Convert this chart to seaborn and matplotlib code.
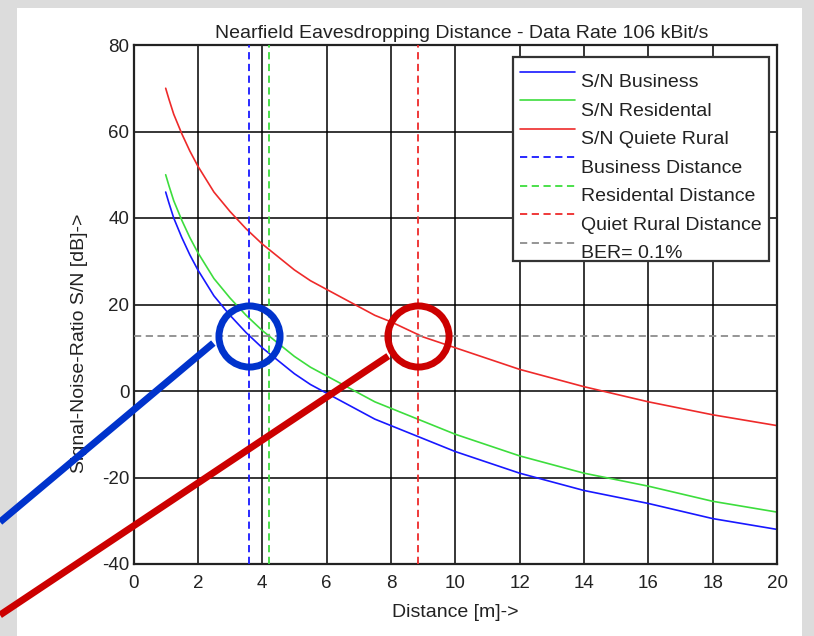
import pandas as pd
import matplotlib.pyplot as plt
import seaborn as sns
from matplotlib.lines import Line2D
from matplotlib.patches import Rectangle

distance = [1, 1.1, 1.25, 1.5, 1.75, 2, 2.25, 2.5, 3, 3.5, 4, 4.5, 5, 5.5, 6, 6.5, 7, 7.5,
            8, 9, 10, 11, 12, 13, 14, 16, 18, 20]
sn_business = [46, 43.5, 40, 35.5, 31.5, 28, 25, 22, 17.5, 13.5, 10, 7, 4, 1.5, -0.5, -2.5,
               -4.5, -6.5, -8, -11, -14, -16.5, -19, -21, -23, -26, -29.5, -32]
sn_residental = [50, 47.5, 44, 39.5, 35.5, 32, 29, 26, 21.5, 17.5, 14, 11, 8, 5.5, 3.5, 1.5,
                 -0.5, -2.5, -4, -7, -10, -12.5, -15, -17, -19, -22, -25.5, -28]
sn_rural = [70, 67.5, 64, 59.5, 55.5, 52, 49, 46, 41.5, 37.5, 34, 31, 28, 25.5, 23.5, 21.5,
            19.5, 17.5, 16, 12.5, 10, 7.5, 5, 3, 1, -2.5, -5.5, -8]

series_names = ["S/N Business", "S/N Residental", "S/N Quiete Rural"]
series_colors = ["#1818ff", "#3ddd3d", "#ee2a2a"]

dist_names = ["Business Distance", "Residental Distance", "Quiet Rural Distance"]
dist_values = [3.6, 4.2, 8.85]
ber_level = 12.7

x_ticks = list(range(0, 21, 2))
y_ticks = list(range(-40, 81, 20))

df = pd.DataFrame({
    "Distance": distance * 3,
    "SN": sn_business + sn_residental + sn_rural,
    "Series": sum([[n] * len(distance) for n in series_names], []),
})

sns.set_style("white")
plt.rcParams["font.family"] = ["Liberation Sans", "DejaVu Sans"]
plt.rcParams["axes.unicode_minus"] = False

W, H = 814, 636
fig = plt.figure(figsize=(W / 100, H / 100), dpi=100)
fig.patch.set_facecolor("#dcdcdc")
# white panel behind the chart
fig.add_artist(Rectangle((17 / W, 0), (802 - 17) / W, (H - 8) / H,
                         transform=fig.transFigure, facecolor="white",
                         edgecolor="none", zorder=-10))

ax = fig.add_axes([133.5 / W, (H - 564) / H, (777 - 133.5) / W, (564 - 45) / H])
ax.set_facecolor("white")

for name, col in zip(series_names, series_colors):
    sns.lineplot(data=df[df["Series"] == name], x="Distance", y="SN",
                 color=col, linewidth=1.2, label=name, ax=ax)

dash = (0, (4, 2.5))
for name, x, col in zip(dist_names, dist_values, series_colors):
    ax.axvline(x, color=col, linestyle=dash, linewidth=1.3, label=name, zorder=3)
ax.axhline(ber_level, color="#8c8c8c", linestyle=dash, linewidth=1.3,
           label="BER= 0.1%", zorder=3)

ax.set_xlim(0, 20)
ax.set_ylim(-40, 80)
ax.set_xticks(x_ticks)
ax.set_yticks(y_ticks)
ax.grid(True, color="black", linewidth=1.1)
ax.set_axisbelow(True)
for s in ax.spines.values():
    s.set_color("#222222")
    s.set_linewidth(1.6)
ax.tick_params(axis="both", direction="in", length=4, labelsize=13.5, colors="#222222")
ax.tick_params(axis="x", pad=8)
ax.tick_params(axis="y", pad=3)

ax.set_title("Nearfield Eavesdropping Distance - Data Rate 106 kBit/s",
             fontsize=14, pad=5, color="#222222", x=0.51)
ax.set_xlabel("Distance [m]->", fontsize=14, color="#222222")
ax.set_ylabel("Signal-Noise-Ratio S/N [dB]->", fontsize=14, color="#222222")
ax.xaxis.set_label_coords(0.5, -0.077)
ax.yaxis.set_label_coords(-0.07, 0.425)

leg = ax.legend(loc="upper right", bbox_to_anchor=(0.9876, 0.977), borderaxespad=0,
                fontsize=14, handlelength=2.8, handletextpad=0.3, labelspacing=0.56,
                frameon=True, fancybox=False, framealpha=1, borderpad=0.4)
leg.get_frame().set_edgecolor("#333333")
leg.get_frame().set_linewidth(1.6)
# labels sit a little below their line samples, as in the original export
for t in leg.get_texts():
    t.set_color("#222222")
    t.set_y(-9)

# highlight circles at the crossing points and pointer lines
circle_cols = ["#0033cc", "#cc0000"]
circle_x = [dist_values[0], dist_values[2]]
for cx, col in zip(circle_x, circle_cols):
    ax.plot([cx], [ber_level], marker="o", markersize=44, markerfacecolor="none",
            markeredgecolor=col, markeredgewidth=5, clip_on=False, zorder=10)

fig.canvas.draw()
starts = [(-36, -7), (-30, -20)]
ends = [(0, H - 522), (0, H - 615)]
for cx, col, off, end in zip(circle_x, circle_cols, starts, ends):
    px, py = ax.transData.transform((cx, ber_level))
    sx, sy = px + off[0], py + off[1]
    fig.add_artist(Line2D([sx / W, end[0] / W], [sy / H, end[1] / H],
                          transform=fig.transFigure, color=col, linewidth=5,
                          solid_capstyle="butt", zorder=20))

fig.savefig("out.png", dpi=100, facecolor=fig.get_facecolor())
